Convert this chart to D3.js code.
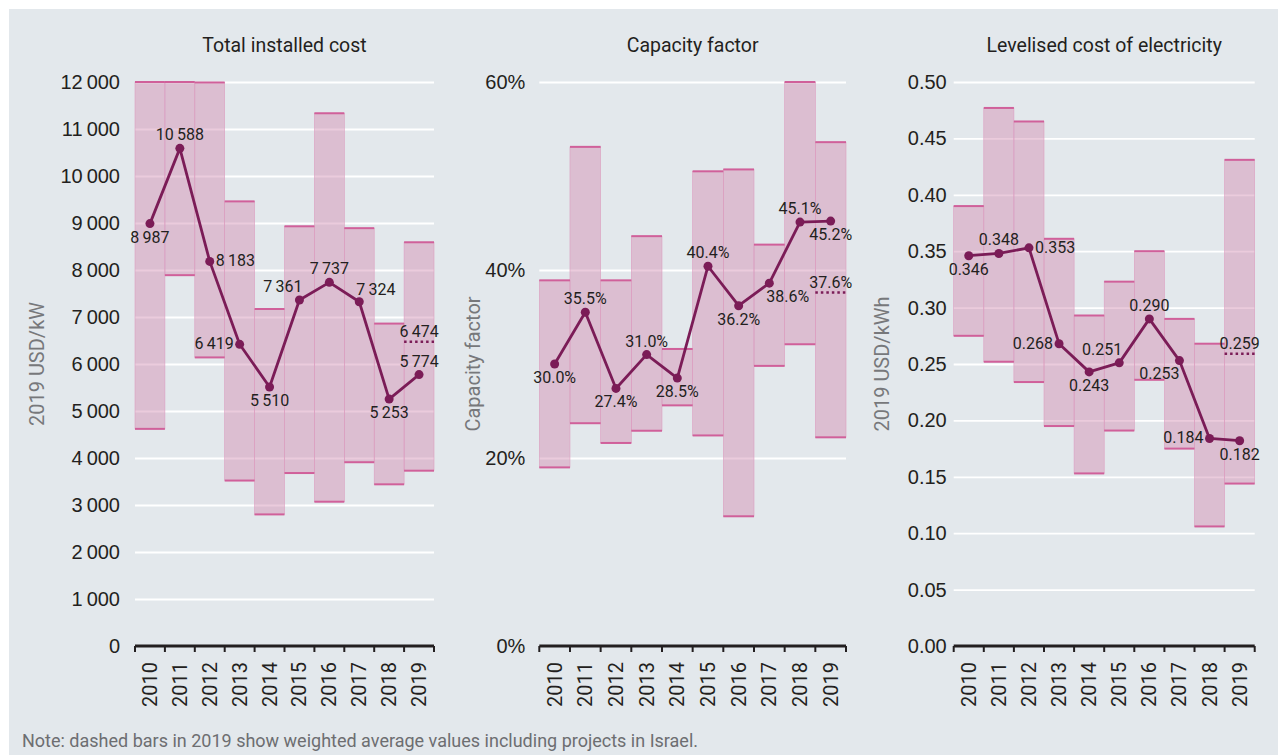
<!DOCTYPE html>
<html lang="en">
<head>
    <meta charset="UTF-8">
    <title>Total installed cost, capacity factor and LCOE</title>
    <script src="https://d3js.org/d3.v7.min.js"></script>
    <style>
        /* page background */
        body {
            margin: 0;
            background: #ffffff;
            font-family: Roboto, "Open Sans", sans-serif;
        }
        svg { display: block; }
        .grid line { stroke: #ffffff; stroke-width: 1.8; }
        .grid path { display: none; }
        .grid text { fill: #231f20; font-size: 20px; }
    </style>
</head>
<body>
    <svg id="chart" width="1278" height="755"></svg>

    <script>
        // data
        const years = [2010, 2011, 2012, 2013, 2014, 2015, 2016, 2017, 2018, 2019];

        // total installed cost, 2019 USD/kW
        const costLow  = [4620, 7890, 6140, 3520, 2800, 3680, 3070, 3910, 3440, 3730];
        const costHigh = [12000, 12000, 11990, 9460, 7170, 8930, 11335, 8890, 6860, 8590];
        const costAvg  = [8987, 10588, 8183, 6419, 5510, 7361, 7737, 7324, 5253, 5774];
        const costIsrael = 6474;
        const costTicks = [0, 1000, 2000, 3000, 4000, 5000, 6000, 7000, 8000, 9000, 10000, 11000, 12000];

        // capacity factor, %
        const cfLow  = [19.0, 23.7, 21.6, 22.9, 25.6, 22.4, 13.8, 29.8, 32.1, 22.2];
        const cfHigh = [38.9, 53.1, 38.9, 43.6, 31.6, 50.5, 50.7, 42.7, 60.0, 53.6];
        const cfAvg  = [30.0, 35.5, 27.4, 31.0, 28.5, 40.4, 36.2, 38.6, 45.1, 45.2];
        const cfIsrael = 37.6;
        const cfTicks = [0, 20, 40, 60];

        // levelised cost of electricity, 2019 USD/kWh
        const lcoeLow  = [0.275, 0.252, 0.234, 0.195, 0.153, 0.191, 0.236, 0.175, 0.106, 0.144];
        const lcoeHigh = [0.390, 0.477, 0.465, 0.361, 0.293, 0.323, 0.350, 0.290, 0.268, 0.431];
        const lcoeAvg  = [0.346, 0.348, 0.353, 0.268, 0.243, 0.251, 0.290, 0.253, 0.184, 0.182];
        const lcoeIsrael = 0.259;
        const lcoeTicks = [0, 0.05, 0.10, 0.15, 0.20, 0.25, 0.30, 0.35, 0.40, 0.45, 0.50];

        // where each value label sits relative to its point
        const costLabelPos = ["b", "a", "r", "l", "b", "al", "a", "ar", "b", "a"];
        const cfLabelPos   = ["b", "a", "b", "a", "b", "a", "b", "br", "a", "b"];
        const lcoeLabelPos = ["b", "a", "r", "l", "b", "al", "a", "bl", "l", "b"];

        const thin = d3.formatLocale({ decimal: ".", thousands: "\u2009", grouping: [3] });
        const fmtThousands = thin.format(",.0f");

        const svg = d3.select("#chart");
        const plotTop = 82, plotBottom = 646;
        const lineColor = "#7b1c57";

        // panel background
        svg.append("rect")
            .attr("x", 9).attr("y", 9)
            .attr("width", 1269).attr("height", 746)
            .attr("fill", "#e3e8ec");

        const labelOffsets = {
            a:  { anchor: "middle", dx: 0,  dy: -8 },
            b:  { anchor: "middle", dx: 0,  dy: 19 },
            r:  { anchor: "start",  dx: 6,  dy: 5 },
            l:  { anchor: "end",    dx: -6, dy: 5 },
            al: { anchor: "end",    dx: 3,  dy: -8 },
            ar: { anchor: "start",  dx: -3, dy: -7 },
            bl: { anchor: "end",    dx: 0,  dy: 18 },
            br: { anchor: "start",  dx: -3, dy: 19 }
        };

        function drawPanel(p) {
            const g = svg.append("g");
            const x = d3.scaleBand().domain(years).range([p.x0, p.x1]).padding(0);
            const y = d3.scaleLinear().domain(p.domain).range([plotBottom, plotTop]);
            const w = p.x1 - p.x0;

            // title
            g.append("text")
                .attr("x", (p.x0 + p.x1) / 2).attr("y", 52)
                .attr("text-anchor", "middle")
                .attr("fill", "#231f20")
                .style("font-size", "19.5px")
                .text(p.title);

            // y axis title
            g.append("text")
                .attr("transform", `translate(${p.titleX},${(plotTop + plotBottom) / 2}) rotate(-90)`)
                .attr("text-anchor", "middle")
                .attr("dy", "0.35em")
                .attr("fill", "#77787b")
                .style("font-size", "20px")
                .text(p.yTitle);

            // gridlines + tick labels
            g.append("g")
                .attr("class", "grid")
                .attr("transform", `translate(${p.x0},0)`)
                .call(d3.axisLeft(y).tickValues(p.ticks).tickSize(-w).tickPadding(p.tickPad).tickFormat(p.tickFmt))
                .call(a => a.selectAll(".tick line").filter(d => d === 0).remove());

            // min-max bars
            const bars = g.append("g");
            bars.selectAll("rect")
                .data(years)
                .join("rect")
                .attr("x", d => x(d))
                .attr("width", x.bandwidth())
                .attr("y", (d, i) => y(p.high[i]))
                .attr("height", (d, i) => y(p.low[i]) - y(p.high[i]))
                .attr("fill", "rgba(210,140,178,0.45)")
                .attr("stroke", "#dc9ec0")
                .attr("stroke-width", 0.6);

            bars.selectAll("line.hi")
                .data(years)
                .join("line")
                .attr("class", "hi")
                .attr("x1", d => x(d)).attr("x2", d => x(d) + x.bandwidth())
                .attr("y1", (d, i) => y(p.high[i])).attr("y2", (d, i) => y(p.high[i]))
                .attr("stroke", "#d0609a").attr("stroke-width", 2);

            bars.selectAll("line.lo")
                .data(years)
                .join("line")
                .attr("class", "lo")
                .attr("x1", d => x(d)).attr("x2", d => x(d) + x.bandwidth())
                .attr("y1", (d, i) => y(p.low[i])).attr("y2", (d, i) => y(p.low[i]))
                .attr("stroke", "#d0609a").attr("stroke-width", 2);

            // Israel weighted average (dotted)
            const last = years[years.length - 1];
            g.append("line")
                .attr("x1", x(last)).attr("x2", x(last) + x.bandwidth())
                .attr("y1", y(p.israel)).attr("y2", y(p.israel))
                .attr("stroke", lineColor).attr("stroke-width", 2.5)
                .attr("stroke-dasharray", "2.5,3");
            g.append("text")
                .attr("x", x(last) + x.bandwidth() / 2).attr("y", y(p.israel) - 5)
                .attr("text-anchor", "middle")
                .attr("fill", "#231f20")
                .style("font-size", "16px")
                .text(p.labelFmt(p.israel));

            // x axis
            const ax = g.append("g");
            ax.append("line")
                .attr("x1", p.x0).attr("x2", p.x1)
                .attr("y1", plotBottom).attr("y2", plotBottom)
                .attr("stroke", "#231f20").attr("stroke-width", 3);
            ax.selectAll("line.tk")
                .data(years.concat([null]))
                .join("line")
                .attr("class", "tk")
                .attr("x1", d => d === null ? p.x1 : x(d))
                .attr("x2", d => d === null ? p.x1 : x(d))
                .attr("y1", plotBottom).attr("y2", plotBottom + 6)
                .attr("stroke", "#231f20").attr("stroke-width", 2);
            ax.selectAll("text")
                .data(years)
                .join("text")
                .attr("transform", d => `translate(${x(d) + x.bandwidth() / 2},662) rotate(-90)`)
                .attr("text-anchor", "end")
                .attr("dy", "0.35em")
                .attr("fill", "#231f20")
                .style("font-size", "20px")
                .text(d => d);

            // weighted average line
            const line = d3.line()
                .x((d, i) => x(years[i]) + x.bandwidth() / 2)
                .y(d => y(d));
            g.append("path")
                .datum(p.avg)
                .attr("d", line)
                .attr("fill", "none")
                .attr("stroke", lineColor)
                .attr("stroke-width", 2.8)
                .attr("stroke-linejoin", "round");
            g.selectAll("circle")
                .data(p.avg)
                .join("circle")
                .attr("cx", (d, i) => x(years[i]) + x.bandwidth() / 2)
                .attr("cy", d => y(d))
                .attr("r", 4.5)
                .attr("fill", lineColor);

            // value labels
            g.selectAll("text.val")
                .data(p.avg)
                .join("text")
                .attr("class", "val")
                .attr("x", (d, i) => x(years[i]) + x.bandwidth() / 2 + labelOffsets[p.pos[i]].dx)
                .attr("y", (d, i) => y(d) + labelOffsets[p.pos[i]].dy)
                .attr("text-anchor", (d, i) => labelOffsets[p.pos[i]].anchor)
                .attr("fill", "#231f20")
                .style("font-size", "16px")
                .text(d => p.labelFmt(d));
        }

        drawPanel({
            title: "Total installed cost", yTitle: "2019 USD/kW", titleX: 37,
            x0: 135, x1: 434, domain: [0, 12000], ticks: costTicks, tickPad: 15,
            tickFmt: fmtThousands, labelFmt: fmtThousands,
            low: costLow, high: costHigh, avg: costAvg, israel: costIsrael, pos: costLabelPos
        });

        drawPanel({
            title: "Capacity factor", yTitle: "Capacity factor", titleX: 473,
            x0: 539.3, x1: 846, domain: [0, 60], ticks: cfTicks, tickPad: 14,
            tickFmt: d => d + "%", labelFmt: d => d3.format(".1f")(d) + "%",
            low: cfLow, high: cfHigh, avg: cfAvg, israel: cfIsrael, pos: cfLabelPos
        });

        drawPanel({
            title: "Levelised cost of electricity", yTitle: "2019 USD/kWh", titleX: 882,
            x0: 953.7, x1: 1254.7, domain: [0, 0.5], ticks: lcoeTicks, tickPad: 7,
            tickFmt: d3.format(".2f"), labelFmt: d3.format(".3f"),
            low: lcoeLow, high: lcoeHigh, avg: lcoeAvg, israel: lcoeIsrael, pos: lcoeLabelPos
        });

        // footnote
        svg.append("text")
            .attr("x", 22).attr("y", 747)
            .attr("fill", "#6d6e71")
            .style("font-size", "18px")
            .text("Note: dashed bars in 2019 show weighted average values including projects in Israel.");
    </script>
</body>
</html>
